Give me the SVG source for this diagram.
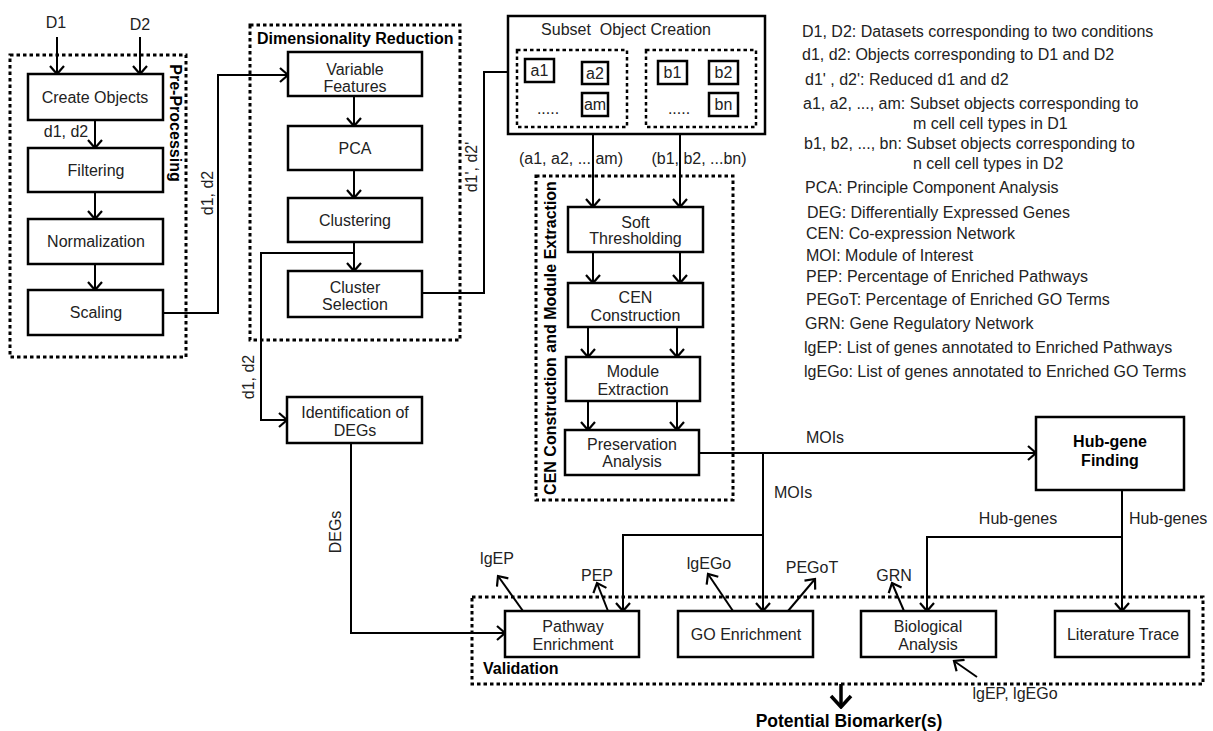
<svg xmlns="http://www.w3.org/2000/svg" width="1213" height="731" viewBox="0 0 1213 731">
<defs>
<style>
text{font-family:"Liberation Sans",Arial,sans-serif;font-size:16px;fill:#222}
.c{text-anchor:middle}
.b{font-weight:bold;fill:#000}
.box{fill:#fff;stroke:#000;stroke-width:2.5}
.dash{fill:none;stroke:#000;stroke-width:3;stroke-dasharray:3.5 3}
.sdash{fill:none;stroke:#000;stroke-width:2.5;stroke-dasharray:3.5 3}
.ln{fill:none;stroke:#000;stroke-width:2}
.ar{fill:none;stroke:#000;stroke-width:2;marker-end:url(#arr)}
.rc{text-anchor:middle;dominant-baseline:central}
</style>
<marker id="arr" viewBox="-10 -8 12 16" refX="0" refY="0" markerWidth="12" markerHeight="16" markerUnits="userSpaceOnUse" orient="auto">
<path d="M-8,-7 L0,0 L-8,7" fill="none" stroke="#000" stroke-width="2.2"/>
</marker>
<marker id="arrB" viewBox="-13 -12 15 24" refX="0" refY="0" markerWidth="15" markerHeight="24" markerUnits="userSpaceOnUse" orient="auto">
<path d="M-11,-10 L0,0 L-11,10" fill="none" stroke="#000" stroke-width="3.5"/>
</marker>
</defs>
<rect width="1213" height="731" fill="#fff"/>

<!-- Containers -->
<g id="preprocessing">
<rect class="dash" x="10" y="55" width="176" height="302"/>
<text class="b rc" transform="translate(175,123) rotate(90)">Pre-Processing</text>
</g>
<g id="dimred">
<rect class="dash" x="250" y="25" width="210" height="315"/>
<text class="b" x="257" y="44">Dimensionality Reduction</text>
</g>
<g id="cen">
<rect class="dash" x="536" y="176" width="197" height="324"/>
<text class="b rc" transform="translate(550,338) rotate(-90)">CEN Construction and Module Extraction</text>
</g>
<g id="validation">
<rect class="dash" x="472" y="597" width="731" height="87"/>
<text class="b" x="483" y="674">Validation</text>
</g>

<!-- Connectors -->
<g id="connectors">
<text x="56" y="28" class="c">D1</text>
<text x="140" y="30" class="c">D2</text>
<path class="ar" d="M57,37 V74"/>
<path class="ar" d="M140,37 V74"/>
<path class="ar" d="M95,120 V148"/>
<text x="66" y="137" class="c">d1, d2</text>
<path class="ar" d="M95,192 V219"/>
<path class="ar" d="M95,264 V290"/>
<path class="ar" d="M163,313 H218 V75 H288"/>
<text class="rc" transform="translate(207,193) rotate(-90)">d1, d2</text>
<path class="ar" d="M354,96 V126"/>
<path class="ar" d="M354,170 V198"/>
<path class="ar" d="M354,242 V271"/>
<path class="ar" d="M354,253 H261 V420 H287"/>
<text class="rc" transform="translate(248,377) rotate(-90)">d1, d2</text>
<path class="ar" d="M422,293 H484 V72 H516"/>
<text class="rc" transform="translate(471,167) rotate(-90)">d1', d2'</text>
<path class="ar" d="M351,443 V633 H505"/>
<text class="rc" transform="translate(335,532) rotate(-90)">DEGs</text>
<text x="571" y="164" class="c">(a1, a2, ... am)</text>
<text x="699" y="164" class="c">(b1, b2, ...bn)</text>
<path class="ar" d="M593,127 V207"/>
<path class="ar" d="M680,127 V207"/>
<path class="ar" d="M593,252 V283"/>
<path class="ar" d="M680,252 V283"/>
<path class="ar" d="M588,327 V357"/>
<path class="ar" d="M677,327 V357"/>
<path class="ar" d="M588,401 V430"/>
<path class="ar" d="M677,401 V430"/>
<path class="ar" d="M699,453 H1036"/>
<text x="825" y="443" class="c">MOIs</text>
<path class="ar" d="M763,453 V611"/>
<path class="ar" d="M763,535 H623 V611"/>
<text x="774" y="498">MOIs</text>
<path class="ar" d="M1122,490 V611"/>
<path class="ar" d="M1122,537 H927 V611"/>
<text x="1018" y="524" class="c">Hub-genes</text>
<text x="1129" y="524">Hub-genes</text>
<path class="ar" d="M523,611 L498,576"/>
<text x="497" y="564" class="c">lgEP</text>
<path class="ar" d="M608,611 L597,583"/>
<text x="597" y="581" class="c">PEP</text>
<path class="ar" d="M733,611 L708,574"/>
<text x="709" y="569" class="c">lgEGo</text>
<path class="ar" d="M788,611 L815,579"/>
<text x="812" y="573" class="c">PEGoT</text>
<path class="ar" d="M904,611 L892,583"/>
<text x="894" y="581" class="c">GRN</text>
<path class="ar" d="M977,677 L954,661"/>
<text x="1015" y="699" class="c">lgEP, lgEGo</text>
<path d="M841,684 V707" fill="none" stroke="#000" stroke-width="3.5" marker-end="url(#arrB)"/>
<text x="849" y="727" class="c b" style="font-size:17.5px">Potential Biomarker(s)</text>
</g>

<!-- Nodes -->
<g id="create-objects"><rect class="box" x="28" y="74" width="135" height="46"/><text x="95" y="103" class="c">Create Objects</text></g>
<g id="filtering"><rect class="box" x="28" y="148" width="135" height="44"/><text x="96" y="176" class="c">Filtering</text></g>
<g id="normalization"><rect class="box" x="28" y="219" width="135" height="45"/><text x="96" y="247" class="c">Normalization</text></g>
<g id="scaling"><rect class="box" x="28" y="290" width="135" height="45"/><text x="96" y="318" class="c">Scaling</text></g>

<g id="variable-features"><rect class="box" x="288" y="52" width="134" height="44"/><text x="355" y="75" class="c">Variable</text><text x="355" y="92" class="c">Features</text></g>
<g id="pca"><rect class="box" x="288" y="126" width="134" height="44"/><text x="355" y="154" class="c">PCA</text></g>
<g id="clustering"><rect class="box" x="288" y="198" width="134" height="44"/><text x="355" y="226" class="c">Clustering</text></g>
<g id="cluster-selection"><rect class="box" x="288" y="271" width="134" height="46"/><text x="355" y="293" class="c">Cluster</text><text x="355" y="310" class="c">Selection</text></g>
<g id="identification-degs"><rect class="box" x="287" y="397" width="135" height="46"/><text x="355" y="418" class="c">Identification of</text><text x="355" y="436" class="c">DEGs</text></g>

<g id="subset-object-creation">
<rect class="box" x="508" y="16" width="257" height="118"/>
<text x="626" y="35" class="c" xml:space="preserve">Subset  Object Creation</text>
<rect class="sdash" x="517" y="50" width="110" height="77"/>
<rect class="sdash" x="646" y="50" width="110" height="77"/>
<rect class="box" x="525" y="59" width="29" height="23"/><text x="539.5" y="76" class="c">a1</text>
<rect class="box" x="582" y="62" width="26" height="22"/><text x="595" y="79" class="c">a2</text>
<rect class="box" x="582" y="93" width="26" height="23"/><text x="595" y="110" class="c">am</text>
<text x="548" y="114" class="c">.....</text>
<rect class="box" x="658" y="61" width="29" height="23"/><text x="672.5" y="78" class="c">b1</text>
<rect class="box" x="709" y="61" width="29" height="23"/><text x="723.5" y="78" class="c">b2</text>
<rect class="box" x="709" y="93" width="29" height="23"/><text x="723.5" y="110" class="c">bn</text>
<text x="679" y="114" class="c">.....</text>
</g>

<g id="soft-thresholding"><rect class="box" x="568" y="207" width="135" height="45"/><text x="635.5" y="228" class="c">Soft</text><text x="635.5" y="244" class="c">Thresholding</text></g>
<g id="cen-construction"><rect class="box" x="568" y="283" width="135" height="44"/><text x="635.5" y="303" class="c">CEN</text><text x="635.5" y="321" class="c">Construction</text></g>
<g id="module-extraction"><rect class="box" x="566" y="357" width="134" height="44"/><text x="633" y="377" class="c">Module</text><text x="633" y="395" class="c">Extraction</text></g>
<g id="preservation-analysis"><rect class="box" x="565" y="430" width="134" height="45"/><text x="632" y="450" class="c">Preservation</text><text x="632" y="467" class="c">Analysis</text></g>

<g id="hub-gene-finding"><rect class="box" x="1036" y="417" width="148" height="73"/><text x="1110" y="447" class="c b">Hub-gene</text><text x="1110" y="466" class="c b">Finding</text></g>

<g id="pathway-enrichment"><rect class="box" x="505" y="611" width="134" height="46"/><text x="573" y="632" class="c">Pathway</text><text x="573" y="650" class="c">Enrichment</text></g>
<g id="go-enrichment"><rect class="box" x="678" y="611" width="135" height="46"/><text x="746" y="640" class="c">GO Enrichment</text></g>
<g id="biological-analysis"><rect class="box" x="861" y="611" width="135" height="46"/><text x="928" y="632" class="c">Biological</text><text x="928" y="650" class="c">Analysis</text></g>
<g id="literature-trace"><rect class="box" x="1055" y="611" width="134" height="46"/><text x="1123" y="640" class="c">Literature Trace</text></g>

<!-- Legend -->
<g id="legend">
<text x="802" y="37">D1, D2: Datasets corresponding to two conditions</text>
<text x="802" y="60">d1, d2: Objects corresponding to D1 and D2</text>
<text x="805" y="85">d1' , d2': Reduced d1 and d2</text>
<text x="803" y="109">a1, a2, ..., am: Subset objects corresponding  to</text>
<text x="913" y="129">m cell cell types in D1</text>
<text x="804" y="149">b1, b2, ..., bn: Subset objects corresponding to</text>
<text x="913" y="169">n cell cell types in D2</text>
<text x="805" y="193">PCA: Principle Component Analysis</text>
<text x="807" y="218">DEG: Differentially Expressed Genes</text>
<text x="806" y="239">CEN: Co-expression Network</text>
<text x="806" y="261">MOI: Module of Interest</text>
<text x="806" y="282">PEP: Percentage of Enriched Pathways</text>
<text x="806" y="305">PEGoT: Percentage of Enriched GO Terms</text>
<text x="805" y="329">GRN: Gene Regulatory Network</text>
<text x="804" y="353">lgEP: List of genes annotated to Enriched Pathways</text>
<text x="804" y="377">lgEGo: List of genes annotated to Enriched GO Terms</text>
</g>
</svg>
